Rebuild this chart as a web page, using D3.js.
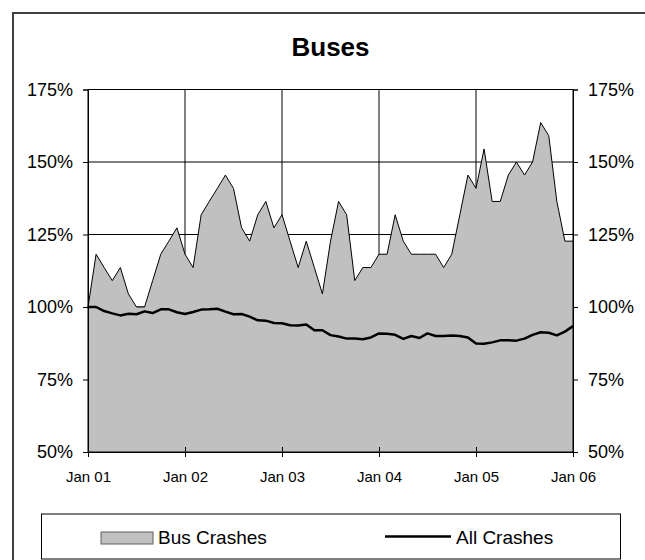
<!DOCTYPE html>
<html>
<head>
<meta charset="utf-8">
<script src="https://cdn.jsdelivr.net/npm/d3@7"></script>
<style>
  body { margin: 0; background: #fff; }
  text { font-family: "Liberation Sans", Arial, sans-serif; fill: #000; }
</style>
</head>
<body>
<div id="vis1"></div>
<script>
// monthly index, Jan 01 .. Jan 06
const yearLabels = ["Jan 01", "Jan 02", "Jan 03", "Jan 04", "Jan 05", "Jan 06"];
const yTicks = [50, 75, 100, 125, 150, 175];

const busCrashes = [
    100, 118.2, 113.6, 109.1, 113.6, 104.5, 100, 100, 109.1, 118.2, 122.7, 127.3,
    118.2, 113.6, 131.8, 136.4, 140.9, 145.5, 140.9, 127.3, 122.7, 131.8, 136.4, 127.3,
    131.8, 122.7, 113.6, 122.7, 113.6, 104.5, 122.7, 136.4, 131.8, 109.1, 113.6, 113.6,
    118.2, 118.2, 131.8, 122.7, 118.2, 118.2, 118.2, 118.2, 113.6, 118.2, 131.8, 145.5,
    140.9, 154.5, 136.4, 136.4, 145.5, 150, 145.5, 150, 163.6, 159.1, 136.4, 122.7,
    122.7];

const allCrashes = [
    100, 100, 98.6, 97.8, 97.1, 97.7, 97.5, 98.5, 97.9, 99.2, 99.2, 98.2,
    97.6, 98.3, 99.1, 99.2, 99.4, 98.4, 97.5, 97.6, 96.7, 95.4, 95.3, 94.5,
    94.4, 93.7, 93.6, 94.0, 92.0, 92.0, 90.3, 89.8, 89.1, 89.1, 88.9, 89.5,
    90.9, 90.8, 90.4, 89.0, 90.0, 89.3, 90.9, 90.0, 90.0, 90.2, 90.0, 89.5,
    87.4, 87.3, 87.8, 88.5, 88.5, 88.4, 89.1, 90.4, 91.3, 91.1, 90.2, 91.5,
    93.4];

const WIDTH = 645;
const HEIGHT = 560;
const PLOT = { left: 88, right: 573, top: 89.5, bottom: 452 };

const svg = d3.select("#vis1")
    .append("svg")
    .attr("width", WIDTH)
    .attr("height", HEIGHT);

// outer chart frame (runs past the right/bottom edge)
svg.append("rect")
    .attr("x", 13)
    .attr("y", 13)
    .attr("width", 640)
    .attr("height", 600)
    .attr("fill", "#fff")
    .attr("stroke", "#404040")
    .attr("stroke-width", 2);

const X_SCALE = d3.scaleLinear()
    .domain([0, busCrashes.length - 1])
    .range([PLOT.left, PLOT.right]);

const Y_SCALE = d3.scaleLinear()
    .domain([50, 175])
    .range([PLOT.bottom, PLOT.top]);

// title
svg.append("text")
    .attr("x", (PLOT.left + PLOT.right) / 2)
    .attr("y", 56)
    .attr("text-anchor", "middle")
    .attr("font-size", "26px")
    .attr("font-weight", "bold")
    .text("Buses");

// gridlines
svg.append("g")
    .selectAll("line")
    .data(yTicks.slice(1, -1))
    .enter()
    .append("line")
    .attr("x1", PLOT.left)
    .attr("x2", PLOT.right)
    .attr("y1", d => Y_SCALE(d))
    .attr("y2", d => Y_SCALE(d))
    .attr("stroke", "#000")
    .attr("stroke-width", 1);

svg.append("g")
    .selectAll("line")
    .data(yearLabels.slice(1, -1))
    .enter()
    .append("line")
    .attr("x1", (d, i) => X_SCALE((i + 1) * 12))
    .attr("x2", (d, i) => X_SCALE((i + 1) * 12))
    .attr("y1", PLOT.top)
    .attr("y2", PLOT.bottom)
    .attr("stroke", "#000")
    .attr("stroke-width", 1);

// bus crashes area
const area = d3.area()
    .x((d, i) => X_SCALE(i))
    .y0(Y_SCALE(50))
    .y1(d => Y_SCALE(d));

svg.append("path")
    .datum(busCrashes)
    .attr("d", area)
    .attr("fill", "#c0c0c0")
    .attr("stroke", "none");

svg.append("path")
    .datum(busCrashes)
    .attr("d", d3.line().x((d, i) => X_SCALE(i)).y(d => Y_SCALE(d)))
    .attr("fill", "none")
    .attr("stroke", "#000")
    .attr("stroke-width", 1);

// all crashes line
svg.append("path")
    .datum(allCrashes)
    .attr("d", d3.line().x((d, i) => X_SCALE(i)).y(d => Y_SCALE(d)))
    .attr("fill", "none")
    .attr("stroke", "#000")
    .attr("stroke-width", 2.5)
    .attr("stroke-linejoin", "round");

// plot border
svg.append("rect")
    .attr("x", PLOT.left)
    .attr("y", PLOT.top)
    .attr("width", PLOT.right - PLOT.left)
    .attr("height", PLOT.bottom - PLOT.top)
    .attr("fill", "none")
    .attr("stroke", "#000")
    .attr("stroke-width", 1);

// y axes both sides
const fmt = d => d + "%";
const leftAxis = svg.append("g")
    .attr("transform", "translate(" + PLOT.left + ",0)")
    .call(d3.axisLeft(Y_SCALE).tickValues(yTicks).tickFormat(fmt).tickSize(5).tickPadding(10));
const rightAxis = svg.append("g")
    .attr("transform", "translate(" + PLOT.right + ",0)")
    .call(d3.axisRight(Y_SCALE).tickValues(yTicks).tickFormat(fmt).tickSize(5).tickPadding(10));

[leftAxis, rightAxis].forEach(g => {
    g.attr("font-family", null).attr("font-size", null);
    g.select(".domain").attr("stroke", "#000");
    g.selectAll("text").attr("font-size", "18px");
    g.selectAll("line").attr("stroke", "#000");
});

// x axis
const xAxis = svg.append("g")
    .attr("transform", "translate(0," + PLOT.bottom + ")")
    .call(d3.axisBottom(X_SCALE)
        .tickValues(yearLabels.map((d, i) => i * 12))
        .tickFormat((d, i) => yearLabels[i])
        .tickSize(5)
        .tickPadding(14));
xAxis.attr("font-family", null).attr("font-size", null);
xAxis.select(".domain").attr("stroke", "#000");
xAxis.selectAll("text").attr("font-size", "15px");
xAxis.selectAll(".tick line").attr("y1", -5).attr("stroke", "#000");

// legend
const legend = svg.append("g");
legend.append("rect")
    .attr("x", 41.5)
    .attr("y", 514)
    .attr("width", 579)
    .attr("height", 45)
    .attr("fill", "#fff")
    .attr("stroke", "#000")
    .attr("stroke-width", 1);

legend.append("rect")
    .attr("x", 101)
    .attr("y", 532)
    .attr("width", 52)
    .attr("height", 12)
    .attr("fill", "#c0c0c0")
    .attr("stroke", "#606060")
    .attr("stroke-width", 1);

legend.append("text")
    .attr("x", 158)
    .attr("y", 543.5)
    .attr("font-size", "19px")
    .text("Bus Crashes");

legend.append("line")
    .attr("x1", 385)
    .attr("x2", 451)
    .attr("y1", 536.5)
    .attr("y2", 536.5)
    .attr("stroke", "#000")
    .attr("stroke-width", 2.5);

legend.append("text")
    .attr("x", 456)
    .attr("y", 543.5)
    .attr("font-size", "19px")
    .text("All Crashes");
</script>
</body>
</html>
